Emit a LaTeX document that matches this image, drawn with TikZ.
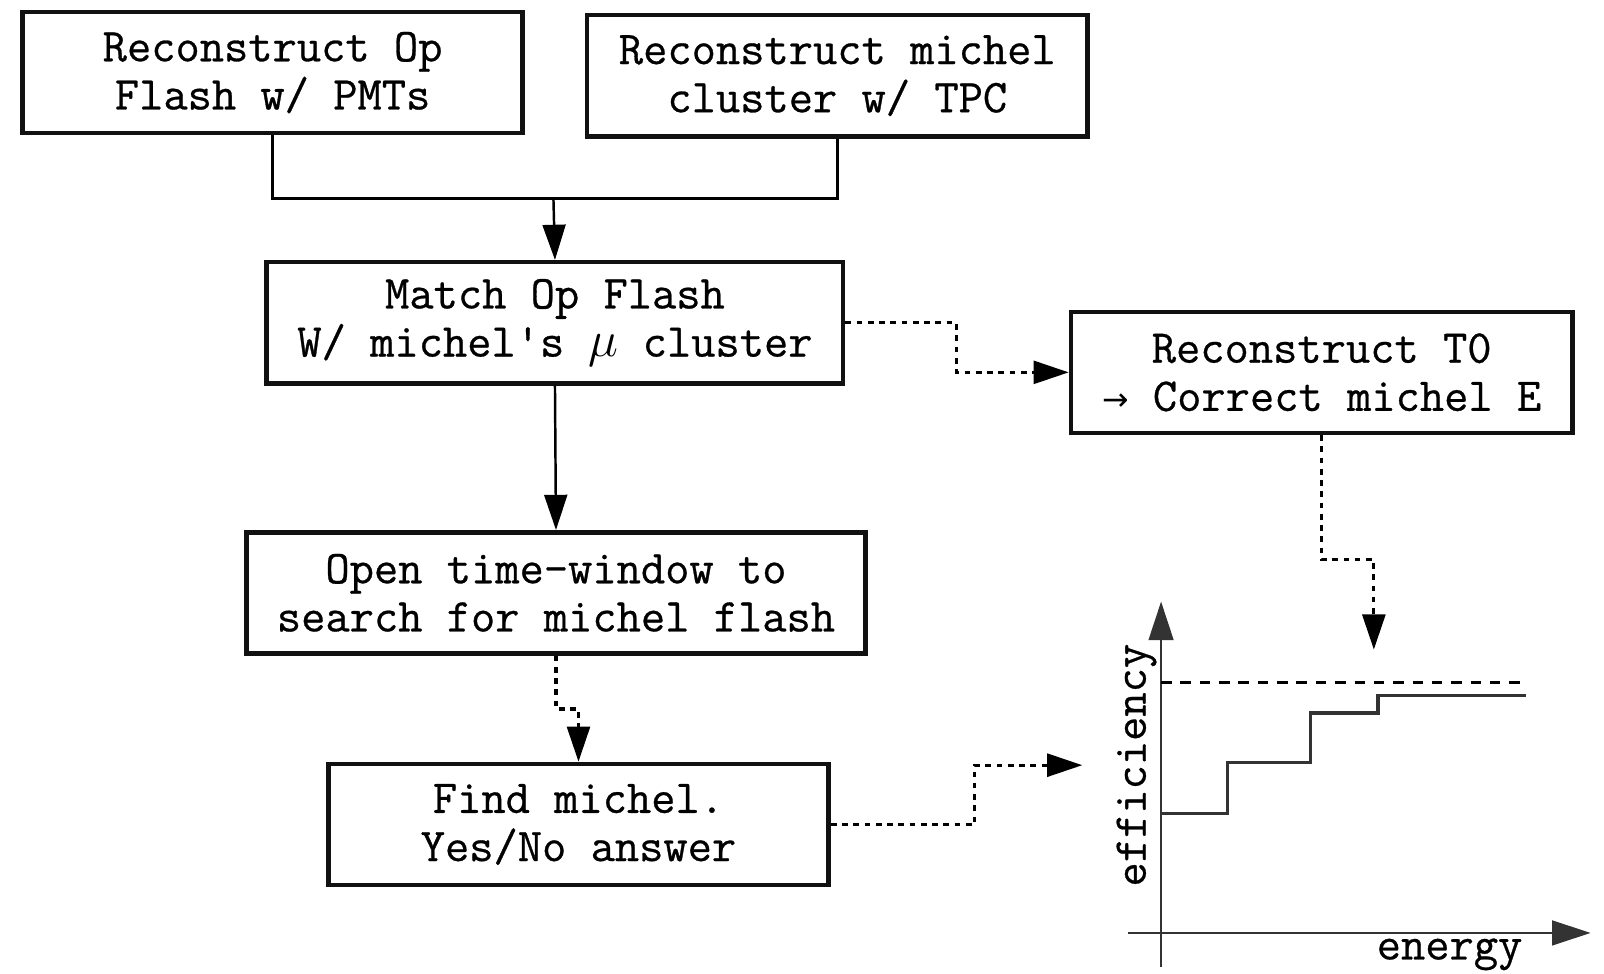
\documentclass[tikz,border=0pt]{standalone}
\usepackage{amsmath,amssymb}
\usepackage{fontspec}
\newfontfamily\symfont{DejaVu Sans}
\newfontfamily\boxfont[FakeBold=0.6]{Latin Modern Mono}
\usepackage{tikz}
\usetikzlibrary{arrows.meta, positioning, calc}
\definecolor{boxline}{HTML}{111111}
\definecolor{plotgray}{HTML}{333333}
\tikzset{
  % Flow step boxes
  stepbox/.style={
    rectangle, draw=boxline, fill=white, line width=1.3pt,
    minimum width=#1, minimum height=1.21cm, align=center,
    font=\boxfont\fontsize{13.4}{13.7}\selectfont, inner sep=2pt,
  },
  stepbox/.default={5cm},
  % Arrows
  flowarrow/.style={-{Triangle[length=10pt, width=6.5pt]}, line width=0.7pt, black},
  plainline/.style={line width=0.7pt, black},
  dotarrow/.style={-{Triangle[length=10pt, width=6.5pt]}, line width=0.9pt, black,
    dash pattern=on 1.6pt off 1.6pt},
  % Plot
  axisline/.style={-{Triangle[length=11pt, width=7pt]}, line width=0.8pt, plotgray},
  stepcurve/.style={line width=0.9pt, plotgray},
  limitline/.style={line width=0.8pt, black, dash pattern=on 3pt off 2.5pt},
  axislabel/.style={font=\boxfont\fontsize{13.4}{13.7}\selectfont, inner sep=0pt},
}
\begin{document}
\begin{tikzpicture}[x=0.01023cm, y=-0.01023cm]
  \useasboundingbox (0,0) rectangle (1568,952);

  % Boxes
  \node[stepbox=5cm] (n-flash) at (266.5,71) {Reconstruct Op\\Flash w/ PMTs};
  \node[stepbox=5cm] (n-cluster) at (818.5,74) {Reconstruct michel\\cluster w/ TPC};
  \node[stepbox=5.76cm] (n-match) at (542.5,315.5) {Match Op Flash\\W/ michel's $\mu$ cluster};
  \node[stepbox=5.01cm] (n-t0) at (1292,364) {Reconstruct T0\\{\symfont\fontsize{9}{10}\selectfont →} Correct michel E};
  \node[stepbox=6.19cm] (n-window) at (543.5,579.5) {Open time-window to\\search for michel flash};
  \node[stepbox=5cm] (n-find) at (565.5,806) {Find michel.\\Yes/No answer};

  % Bend points
  \coordinate (merge) at (541,194);
  \coordinate (k1) at (935,340);
  \coordinate (k2) at (554,693);
  \coordinate (k3) at (953,780);
  \coordinate (k4) at (1320,547);
  \coordinate (p-in) at (1058,748);
  \coordinate (p-top) at (1343,635);

  % Plot
  \coordinate (ax-o) at (1135,912);
  \coordinate (ax-xl) at (1103,912);
  \coordinate (ax-xr) at (1555,912);
  \coordinate (ax-yb) at (1135,945);
  \coordinate (ax-yt) at (1135,588);
  \draw[axisline] (ax-xl) -- (ax-xr);
  \draw[axisline] (ax-yb) -- (ax-yt);
  \draw[limitline] (1135,667) -- (1490,667);
  \draw[stepcurve] (1135,795) -- (1200,795) -- (1200,745) -- (1281,745)
    -- (1281,697) -- (1347,697) -- (1347,680) -- (1492,680);
  \node[axislabel, rotate=90] (l-eff) at (1111,748) {efficiency};
  \node[axislabel] (l-energy) at (1417,933) {energy};

  % Connectors
  \draw[plainline] (n-flash.south) |- (merge) -| (n-cluster.south);
  \draw[flowarrow] (merge) -- (n-match.north);
  \draw[flowarrow] (n-match.south) -- (n-window.north);
  \draw[dotarrow] (n-match.east) -| (k1) |- (n-t0.west);
  \draw[dotarrow] (n-window.south) |- (k2) -| (n-find.north);
  \draw[dotarrow] (n-find.east) -| (k3) |- (p-in);
  \draw[dotarrow] (n-t0.south) |- (k4) -| (p-top);

\end{tikzpicture}
\end{document}
